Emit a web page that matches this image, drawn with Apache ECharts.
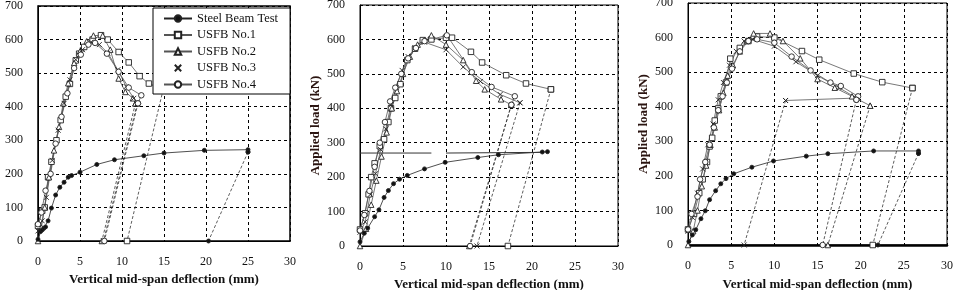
<!DOCTYPE html>
<html>
<head>
<meta charset="utf-8">
<script src="https://cdn.jsdelivr.net/npm/echarts@6.0.0/dist/echarts.min.js"></script>
<style>
html, body { margin: 0; padding: 0; background: #fff; }
#chart { width: 956px; height: 290px; }
</style>
</head>
<body>
<div id="chart"></div>
<script>
// series names (legend)
const seriesNames = ['Steel Beam Test', 'USFB No.1', 'USFB No.2', 'USFB No.3', 'USFB No.4'];

// axis ranges
const xRange = [0, 30, 5];
const yRange = [0, 700, 100];

// ---- panel 1 : [deflection mm, load kN]
const steel1 = [[0,5],[0.3,28],[0.5,33],[0.7,38],[0.9,42],[1.2,60],[1.6,98],[2.1,137],[2.6,160],[3.1,175],[3.6,190],[4.0,195],[5.0,205],[7.0,228],[9.1,242],[12.6,254],[15.0,262],[19.8,270],[25.0,272],[25.0,265],[20.3,0]];
const usfb1_1 = [[0,45],[0.5,90],[0.8,100],[1.2,190],[1.6,236],[2.2,300],[2.7,360],[3.3,430],[3.8,468],[4.5,538],[4.9,558],[5.5,578],[6.5,600],[7.5,613],[8.3,600],[9.6,563],[10.8,532],[12.1,491],[13.2,469],[14.9,451],[10.6,0]];
const usfb2_1 = [[0,0],[0.4,40],[0.8,100],[1.3,190],[1.9,270],[2.5,340],[3.0,410],[3.6,470],[4.3,530],[5.0,565],[5.8,595],[6.6,612],[7.7,612],[8.6,570],[9.6,484],[10.4,444],[11.3,425],[11.6,410],[7.6,0]];
const usfb3_1 = [[0,30],[0.5,60],[1.0,130],[1.7,240],[2.4,330],[3.1,410],[3.8,480],[4.5,540],[5.3,570],[6.3,592],[7.3,585],[8.3,560],[9.5,510],[10.5,460],[11.4,425],[11.8,408],[7.8,0]];
const usfb4_1 = [[0,50],[0.4,85],[0.9,150],[1.5,200],[2.1,290],[2.8,370],[3.5,440],[4.3,515],[5.1,555],[6.0,585],[6.8,590],[8.2,558],[9.6,504],[10.8,457],[12.3,434],[11.9,410],[7.9,0]];

// ---- panel 2
const steel2 = [[0,12],[0.5,37],[0.9,52],[1.7,85],[2.2,105],[2.8,141],[3.3,161],[3.9,181],[4.6,194],[5.5,205],[7.5,224],[9.9,243],[13.7,257],[16.1,265],[21.2,273],[21.8,274]];
const usfb1_2 = [[0,48],[0.6,95],[1.0,150],[1.3,200],[1.7,240],[2.3,290],[2.8,310],[3.3,360],[3.6,400],[4.1,430],[4.7,470],[5.5,540],[6.4,573],[7.3,598],[8.3,600],[10.0,605],[10.7,605],[12.9,564],[14.2,533],[17.0,496],[19.3,472],[22.2,455],[17.2,0]];
const usfb2_2 = [[0,0],[0.7,50],[1.3,120],[1.9,190],[2.5,260],[3.1,330],[3.7,400],[4.3,450],[5.0,500],[5.8,550],[6.7,585],[7.5,598],[8.3,612],[10.0,585],[12.0,540],[13.5,480],[14.5,455],[16.4,426],[17.6,410],[12.7,0]];
const usfb3_2 = [[0,40],[0.6,70],[1.2,150],[1.8,210],[2.4,280],[3.0,340],[3.6,410],[4.2,460],[4.9,510],[5.6,550],[6.4,575],[7.5,592],[10.0,570],[12.0,520],[14.0,478],[16.3,440],[18.6,416],[13.6,0]];
const usfb4_2 = [[0,45],[0.5,90],[1.1,160],[1.7,230],[2.3,300],[2.9,360],[3.5,420],[4.1,460],[4.8,500],[5.6,545],[6.5,575],[7.5,595],[10.1,612],[13.0,505],[15.3,462],[18.0,435],[17.6,410],[12.8,0]];
const flat2 = [[0,270],[8.3,270],['-','-'],[10.0,270],[21.2,272]];

// ---- panel 3
const steel3 = [[0.1,10],[0.5,29],[0.9,44],[1.5,76],[2.0,99],[2.5,131],[3.2,157],[3.8,177],[4.4,192],[5.3,206],[7.4,225],[9.9,243],[13.7,257],[16.2,264],[21.5,272],[26.7,272],[26.7,265],[22.0,0]];
const usfb1_3 = [[0,45],[0.7,90],[1.3,150],[1.7,190],[2.2,240],[2.5,285],[2.8,310],[3.1,360],[3.5,395],[3.8,430],[4.4,470],[4.9,539],[6.0,570],[7.0,590],[8.0,603],[10.0,600],[13.2,561],[15.2,536],[19.2,496],[22.5,471],[26.0,454],[21.4,0]];
const usfb2_3 = [[0,0],[0.6,40],[1.1,100],[1.6,170],[2.1,230],[2.6,290],[3.1,340],[3.6,390],[4.1,440],[4.6,490],[5.2,520],[6.0,560],[6.8,590],[7.6,612],[9.5,612],[11.0,590],[13.0,540],[15.0,480],[17.0,455],[19.0,430],[21.1,403],[16.2,0]];
const usfb3_3 = [[0,40],[0.5,80],[1.1,150],[1.7,220],[2.3,290],[2.9,350],[3.5,420],[4.1,470],[4.8,520],[5.6,560],[6.5,590],[7.5,595],[10.0,575],[12.5,530],[15.0,490],[17.5,455],[19.5,425],[11.3,418],[6.5,0]];
const usfb4_3 = [[0,45],[0.4,90],[1.1,140],[1.4,190],[2.0,240],[2.5,290],[3.0,340],[3.5,390],[4.0,430],[4.5,470],[5.1,510],[6.0,560],[7.0,590],[8.0,595],[10.0,585],[12.0,545],[14.2,505],[16.5,470],[17.7,460],[19.7,430],[19.5,420],[15.6,0]];

const panels = [
    [steel1, usfb1_1, usfb2_1, usfb3_1, usfb4_1],
    [steel2, usfb1_2, usfb2_2, usfb3_2, usfb4_2],
    [steel3, usfb1_3, usfb2_3, usfb3_3, usfb4_3]
];

document.addEventListener('DOMContentLoaded', function () {
    initChart();
});

function initChart() {
    const chartDom = document.getElementById('chart');
    const myChart = echarts.init(chartDom);

    const serif = '"Liberation Serif", "DejaVu Serif", serif';
    const ink = '#111';

    // marker styles for each series
    const markers = [
        { symbol: 'circle', size: 4, fill: '#111' },
        { symbol: 'rect', size: 5.5, fill: '#fff' },
        { symbol: 'triangle', size: 5.5, fill: '#fff' },
        { symbol: 'path://M0,0L10,10M10,0L0,10', size: 5, fill: 'none' },
        { symbol: 'circle', size: 5.5, fill: '#fff' }
    ];

    const grids = [
        { left: 38, right: 666, top: 6, bottom: 49, show: true, borderColor: '#000', borderWidth: 1.5, outerBoundsMode: 'none' },
        { left: 360, right: 338, top: 5, bottom: 44, show: true, borderColor: '#000', borderWidth: 1, outerBoundsMode: 'none' },
        { left: 688, right: 9, top: 3, bottom: 45, show: true, borderColor: '#000', borderWidth: 1, outerBoundsMode: 'none' }
    ];
    const xNameGap = [31, 30, 33];

    const xAxes = [];
    const yAxes = [];
    for (let i = 0; i < 3; i++) {
        xAxes.push({
            gridIndex: i,
            type: 'value',
            min: xRange[0], max: xRange[1], interval: xRange[2],
            name: 'Vertical mid-span deflection (mm)',
            nameLocation: 'middle',
            nameGap: xNameGap[i],
            nameTextStyle: { fontFamily: serif, fontSize: 13, fontWeight: 'bold', color: ink },
            axisLine: { lineStyle: { color: '#000', width: i === 2 ? 2.5 : 1 } },
            axisTick: { show: false },
            axisLabel: { fontFamily: serif, fontSize: 12, color: ink, margin: 15 },
            splitLine: { show: true, lineStyle: { color: '#000', type: [3, 3], width: 1 } }
        });
        yAxes.push({
            gridIndex: i,
            type: 'value',
            min: yRange[0], max: yRange[1], interval: yRange[2],
            name: i === 0 ? '' : 'Applied load (kN)',
            nameLocation: 'middle',
            nameGap: 38,
            nameTextStyle: { fontFamily: serif, fontSize: 13, fontWeight: 'bold', color: '#2a1410' },
            axisLine: { lineStyle: { color: '#000', width: 1 } },
            axisTick: { show: false },
            axisLabel: { fontFamily: serif, fontSize: 12, color: ink, margin: 15 },
            splitLine: { show: true, lineStyle: { color: '#000', type: [3, 3], width: 1 } }
        });
    }

    const series = [];
    panels.forEach(function (panel, p) {
        panel.forEach(function (data, s) {
            const m = markers[s];
            // 卸载段 (last point back to zero load) drawn dashed
            const hasUnload = data[data.length - 1][1] === 0;
            const loading = hasUnload ? data.slice(0, -1) : data;
            const base = {
                name: seriesNames[s],
                type: 'line',
                xAxisIndex: p,
                yAxisIndex: p,
                symbol: m.symbol,
                symbolSize: m.size,
                showSymbol: true,
                animation: false,
                itemStyle: { color: m.fill, borderColor: '#222', borderWidth: 0.9 },
                z: s === 0 ? 3 : 2
            };
            series.push(Object.assign({}, base, {
                data: loading,
                lineStyle: { color: s === 0 ? '#222' : '#555', width: 0.8 }
            }));
            if (hasUnload) {
                series.push(Object.assign({}, base, {
                    data: data.slice(-2),
                    lineStyle: { color: '#333', width: 0.8, type: [3, 2] }
                }));
            }
        });
    });
    // stray horizontal trace in panel 2
    series.push({
        name: 'trace',
        type: 'line',
        xAxisIndex: 1,
        yAxisIndex: 1,
        data: flat2,
        symbol: 'none',
        animation: false,
        lineStyle: { color: '#333', width: 1 }
    });

    const option = {
        backgroundColor: '#fff',
        animation: false,
        grid: grids,
        xAxis: xAxes,
        yAxis: yAxes,
        legend: {
            orient: 'vertical',
            left: 153,
            top: 8,
            padding: [4, 12, 3, 10],
            itemWidth: 28,
            itemHeight: 8,
            itemGap: 3.5,
            backgroundColor: '#fff',
            borderColor: '#000',
            borderWidth: 1,
            selectedMode: false,
            textStyle: { fontFamily: serif, fontSize: 12.5, color: ink, padding: [0, 0, 0, 0] },
            data: [
                { name: 'Steel Beam Test' },
                { name: 'USFB No.1' },
                { name: 'USFB No.2' },
                { name: 'USFB No.3', lineStyle: { opacity: 0 } },
                { name: 'USFB No.4' }
            ]
        },
        series: series
    };

    myChart.setOption(option);

    window.addEventListener('resize', function () {
        myChart.resize();
    });
}
</script>
</body>
</html>
